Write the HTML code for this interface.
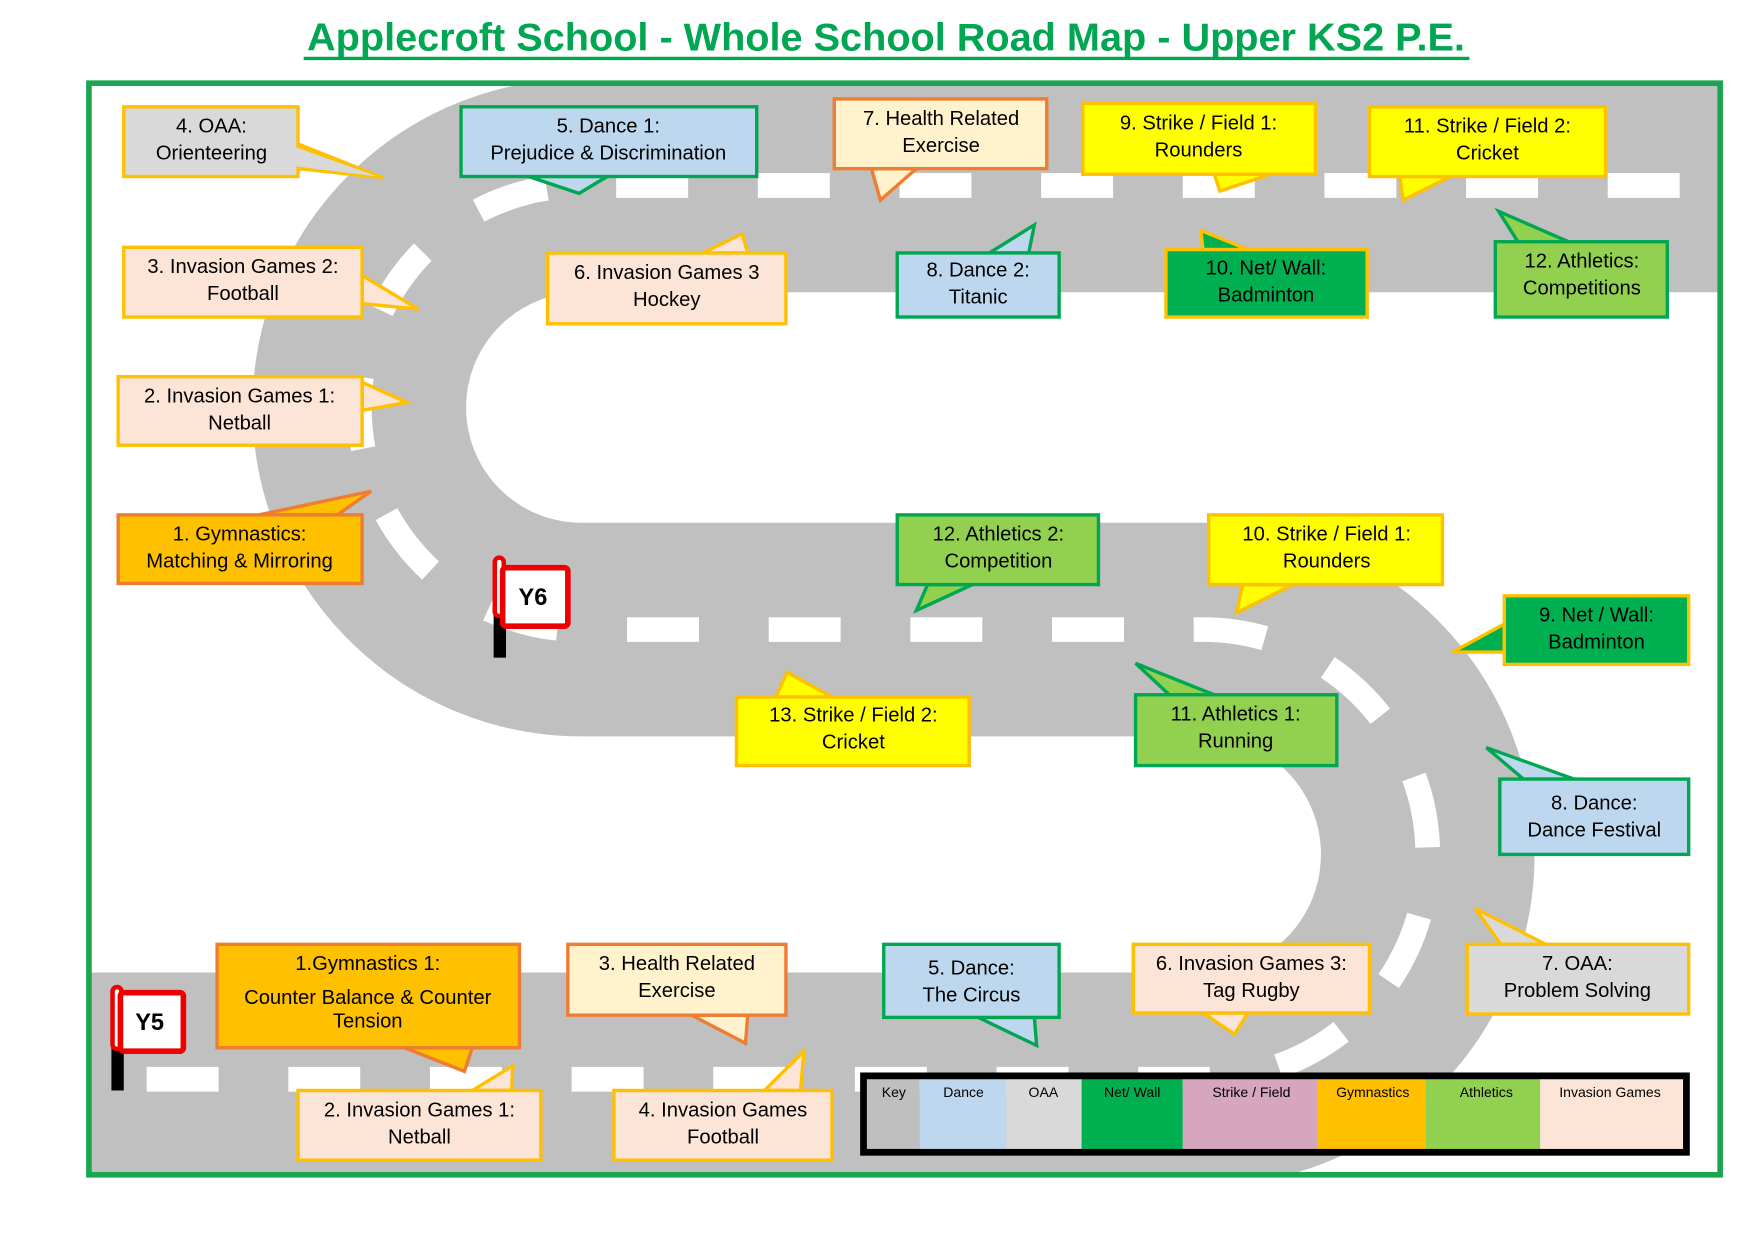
<!DOCTYPE html>
<html><head><meta charset="utf-8"><style>
html,body{margin:0;padding:0;background:#fff;}
svg{display:block;}
text{font-family:"Liberation Sans",sans-serif;}
</style></head><body>
<svg width="1754" height="1240" viewBox="0 0 1560 1103" xmlns="http://www.w3.org/2000/svg">
<defs><clipPath id="fr"><rect x="81" y="76" width="1447" height="967"/></clipPath></defs>
<rect width="1560" height="1103" fill="#fff"/>
<text x="788" y="45" text-anchor="middle" font-size="35" font-weight="bold" fill="#00a651" textLength="1030" lengthAdjust="spacingAndGlyphs">Applecroft School - Whole School Road Map - Upper KS2 P.E.</text>
<line x1="270" y1="52" x2="1307" y2="52" stroke="#00a651" stroke-width="3"/>
<g clip-path="url(#fr)">
<path d="M1600 165 L517 165 A197.5 197.5 0 0 0 517 560 L1070 560 A200 200 0 0 1 1070 960 L40 960" fill="none" stroke="#c0c0c0" stroke-width="190"/>
<path d="M1600 165 L517 165 A197.5 197.5 0 0 0 517 560 L1070 560 A200 200 0 0 1 1070 960 L40 960" fill="none" stroke="#fff" stroke-width="22" stroke-dasharray="64 62" stroke-dashoffset="20"/>
</g>
<rect x="79" y="74" width="1451" height="971" fill="none" stroke="#1aa550" stroke-width="5"/>

<g stroke-width="3" font-size="18" text-anchor="middle" fill="#000">
<polygon points="265,128 340,158 265,150" fill="#ffc000" stroke="#ffc000"/>
<rect x="110" y="95" width="155" height="62" fill="#d9d9d9" stroke="#ffc000"/>
<polygon points="263,131 336,157 263,148" fill="#d9d9d9"/>
<text x="188" y="118">4. OAA:</text><text x="188" y="142">Orienteering</text>
<polygon points="470,157 515,172 540,157" fill="#bdd7ee" stroke="#00a651"/>
<rect x="410" y="95" width="263" height="62" fill="#bdd7ee" stroke="#00a651"/>
<text x="541" y="118">5. Dance 1:</text><text x="541" y="142">Prejudice &amp; Discrimination</text>
<polygon points="775,150 783,178 815,150" fill="#fff2cc" stroke="#ed7d31"/>
<rect x="742" y="88" width="189" height="62" fill="#fff2cc" stroke="#ed7d31"/>
<text x="837" y="111">7. Health Related</text><text x="837" y="135">Exercise</text>
<polygon points="1080,155 1085,170 1130,155" fill="#ffff00" stroke="#ffc000"/>
<rect x="963" y="92" width="207" height="63" fill="#ffff00" stroke="#ffc000"/>
<text x="1066" y="115">9. Strike / Field 1:</text><text x="1066" y="139">Rounders</text>
<polygon points="1245,157 1248,178 1290,157" fill="#ffff00" stroke="#ffc000"/>
<rect x="1218" y="95" width="210" height="62" fill="#ffff00" stroke="#ffc000"/>
<text x="1323" y="118">11. Strike / Field 2:</text><text x="1323" y="142">Cricket</text>
<polygon points="322,245 372,275 322,270" fill="#fce4d6" stroke="#ffc000"/>
<rect x="110" y="220" width="212" height="62" fill="#fce4d6" stroke="#ffc000"/>
<text x="216" y="243">3. Invasion Games 2:</text><text x="216" y="267">Football</text>
<polygon points="625,225 660,208 665,225" fill="#fce4d6" stroke="#ffc000"/>
<rect x="487" y="225" width="212" height="63" fill="#fce4d6" stroke="#ffc000"/>
<text x="593" y="248">6. Invasion Games 3</text><text x="593" y="272">Hockey</text>
<polygon points="880,225 920,200 915,225" fill="#bdd7ee" stroke="#00a651"/>
<rect x="798" y="225" width="144" height="57" fill="#bdd7ee" stroke="#00a651"/>
<text x="870" y="246">8. Dance 2:</text><text x="870" y="270">Titanic</text>
<polygon points="1070,222 1068,205 1110,222" fill="#00b050" stroke="#ffc000"/>
<rect x="1037" y="222" width="179" height="60" fill="#00b050" stroke="#ffc000"/>
<text x="1126" y="244">10. Net/ Wall:</text><text x="1126" y="268">Badminton</text>
<polygon points="1350,215 1333,188 1395,215" fill="#92d050" stroke="#00a651"/>
<rect x="1330" y="215" width="153" height="67" fill="#92d050" stroke="#00a651"/>
<text x="1407" y="238">12. Athletics:</text><text x="1407" y="262">Competitions</text>
<polygon points="322,340 362,358 322,365" fill="#fce4d6" stroke="#ffc000"/>
<rect x="105" y="335" width="217" height="61" fill="#fce4d6" stroke="#ffc000"/>
<text x="213" y="358">2. Invasion Games 1:</text><text x="213" y="382">Netball</text>
<polygon points="230,458 330,437 300,458" fill="#ffc000" stroke="#ed7d31"/>
<rect x="105" y="458" width="217" height="61" fill="#ffc000" stroke="#ed7d31"/>
<text x="213" y="481">1. Gymnastics:</text><text x="213" y="505">Matching &amp; Mirroring</text>
<polygon points="825,520 815,543 865,520" fill="#92d050" stroke="#00a651"/>
<rect x="798" y="458" width="179" height="62" fill="#92d050" stroke="#00a651"/>
<text x="888" y="481">12. Athletics 2:</text><text x="888" y="505">Competition</text>
<polygon points="1105,520 1100,545 1150,520" fill="#ffff00" stroke="#ffc000"/>
<rect x="1075" y="458" width="208" height="62" fill="#ffff00" stroke="#ffc000"/>
<text x="1180" y="481">10. Strike / Field 1:</text><text x="1180" y="505">Rounders</text>
<polygon points="1338,555 1292,580 1338,580" fill="#00b050" stroke="#ffc000"/>
<rect x="1338" y="530" width="164" height="61" fill="#00b050" stroke="#ffc000"/>
<text x="1420" y="553">9. Net / Wall:</text><text x="1420" y="577">Badminton</text>
<polygon points="690,620 700,598 740,620" fill="#ffff00" stroke="#ffc000"/>
<rect x="655" y="620" width="207" height="61" fill="#ffff00" stroke="#ffc000"/>
<text x="759" y="642">13. Strike / Field 2:</text><text x="759" y="666">Cricket</text>
<polygon points="1040,618 1010,590 1080,618" fill="#92d050" stroke="#00a651"/>
<rect x="1010" y="618" width="179" height="63" fill="#92d050" stroke="#00a651"/>
<text x="1099" y="641">11. Athletics 1:</text><text x="1099" y="665">Running</text>
<polygon points="1355,693 1322,665 1400,693" fill="#bdd7ee" stroke="#00a651"/>
<rect x="1334" y="693" width="168" height="67" fill="#bdd7ee" stroke="#00a651"/>
<text x="1418" y="720">8. Dance:</text><text x="1418" y="744">Dance Festival</text>
<polygon points="360,932 413,953 420,932" fill="#ffc000" stroke="#ed7d31"/>
<rect x="193" y="840" width="269" height="92" fill="#ffc000" stroke="#ed7d31"/>
<text x="327" y="863">1.Gymnastics 1:</text><text x="327" y="893">Counter Balance &amp; Counter</text><text x="327" y="914">Tension</text>
<polygon points="615,903 663,928 665,903" fill="#fff2cc" stroke="#ed7d31"/>
<rect x="505" y="840" width="194" height="63" fill="#fff2cc" stroke="#ed7d31"/>
<text x="602" y="863">3. Health Related</text><text x="602" y="887">Exercise</text>
<polygon points="870,905 922,930 920,905" fill="#bdd7ee" stroke="#00a651"/>
<rect x="786" y="840" width="156" height="65" fill="#bdd7ee" stroke="#00a651"/>
<text x="864" y="867">5. Dance:</text><text x="864" y="891">The Circus</text>
<polygon points="1070,901 1098,920 1110,901" fill="#fce4d6" stroke="#ffc000"/>
<rect x="1008" y="840" width="210" height="61" fill="#fce4d6" stroke="#ffc000"/>
<text x="1113" y="863">6. Invasion Games 3:</text><text x="1113" y="887">Tag Rugby</text>
<polygon points="1335,840 1312,808 1375,840" fill="#d9d9d9" stroke="#ffc000"/>
<rect x="1305" y="840" width="197" height="62" fill="#d9d9d9" stroke="#ffc000"/>
<text x="1403" y="863">7. OAA:</text><text x="1403" y="887">Problem Solving</text>
<polygon points="420,970 456,948 455,970" fill="#fce4d6" stroke="#ffc000"/>
<rect x="265" y="970" width="216" height="62" fill="#fce4d6" stroke="#ffc000"/>
<text x="373" y="993">2. Invasion Games 1:</text><text x="373" y="1017">Netball</text>
<polygon points="680,970 715,935 712,970" fill="#fce4d6" stroke="#ffc000"/>
<rect x="546" y="970" width="194" height="62" fill="#fce4d6" stroke="#ffc000"/>
<text x="643" y="993">4. Invasion Games</text><text x="643" y="1017">Football</text>
</g>

<g>
<rect x="439" y="545" width="11" height="40" fill="#000"/>
<rect x="440" y="496" width="8" height="52" rx="4" fill="#fff" stroke="#e00" stroke-width="4"/>
<rect x="447" y="505" width="58" height="52" rx="3" fill="#fff" stroke="#e00" stroke-width="5"/>
<text x="474" y="538" text-anchor="middle" font-size="21" font-weight="bold">Y6</text>
<rect x="99" y="930" width="11" height="40" fill="#000"/>
<rect x="100" y="878" width="8" height="55" rx="4" fill="#fff" stroke="#e00" stroke-width="4"/>
<rect x="107" y="883" width="56" height="52" rx="3" fill="#fff" stroke="#e00" stroke-width="5"/>
<text x="133" y="916" text-anchor="middle" font-size="21" font-weight="bold">Y5</text>
</g>

<g font-size="12.5" text-anchor="middle">
<rect x="770" y="959" width="48" height="64" fill="#bfbfbf"/>
<rect x="818" y="959" width="77" height="64" fill="#bdd7ee"/>
<rect x="895" y="959" width="67" height="64" fill="#d9d9d9"/>
<rect x="962" y="959" width="90" height="64" fill="#00b050"/>
<rect x="1052" y="959" width="120" height="64" fill="#d5a6bd"/>
<rect x="1172" y="959" width="96" height="64" fill="#ffc000"/>
<rect x="1268" y="959" width="102" height="64" fill="#92d050"/>
<rect x="1370" y="959" width="128" height="64" fill="#fce4d6"/>
<rect x="768" y="957" width="732" height="68" fill="none" stroke="#000" stroke-width="6"/>
<text x="795" y="976">Key</text><text x="857" y="976">Dance</text><text x="928" y="976">OAA</text>
<text x="1007" y="976">Net/ Wall</text><text x="1113" y="976">Strike / Field</text>
<text x="1221" y="976">Gymnastics</text><text x="1322" y="976">Athletics</text><text x="1432" y="976">Invasion  Games</text>
</g>
</svg>
</body></html>
